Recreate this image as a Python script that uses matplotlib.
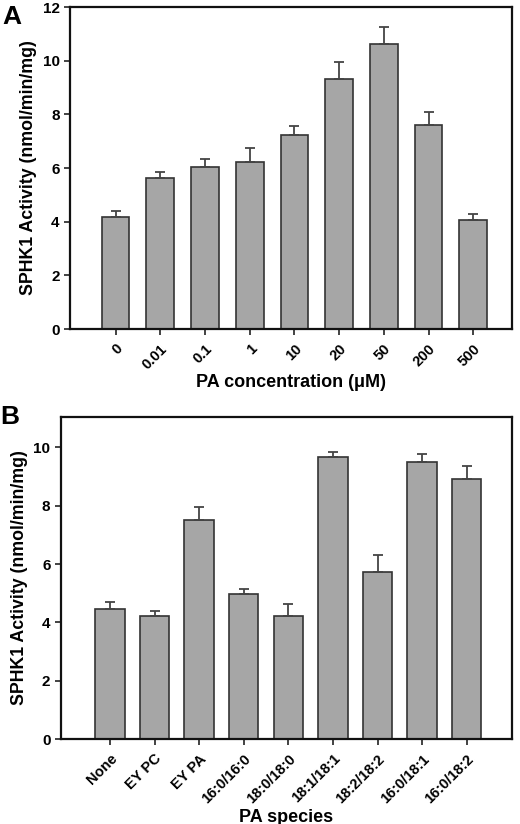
import matplotlib.pyplot as plt

plt.rcParams['font.family'] = ['Liberation Sans', 'DejaVu Sans']
plt.rcParams['font.weight'] = 'bold'

# panel A
conc_labels = ["0", "0.01", "0.1", "1", "10", "20", "50", "200", "500"]
conc_mean = [4.19, 5.62, 6.05, 6.21, 7.24, 9.32, 10.61, 7.60, 4.07]
conc_err = [0.22, 0.22, 0.28, 0.52, 0.33, 0.62, 0.66, 0.49, 0.22]

# panel B
species_labels = ["None", "EY PC", "EY PA", "16:0/16:0", "18:0/18:0",
                  "18:1/18:1", "18:2/18:2", "16:0/18:1", "16:0/18:2"]
species_mean = [4.47, 4.22, 7.50, 4.98, 4.21, 9.68, 5.73, 9.50, 8.90]
species_err = [0.23, 0.17, 0.46, 0.18, 0.42, 0.17, 0.58, 0.26, 0.47]

bar_col = "#a6a6a6"
edge_col = "#333333"

fig = plt.figure(figsize=(5.2, 8.24), dpi=100)
axA = fig.add_axes([0.1346, 0.6007, 0.8504, 0.3908])
axB = fig.add_axes([0.117, 0.103, 0.868, 0.391])


def draw(ax, labels, mean, err, width, xlim, ylim, yticks, xlabel):
    x = list(range(len(labels)))
    ax.bar(x, mean, width=width, color=bar_col, edgecolor=edge_col, linewidth=1.2,
           yerr=[[0] * len(err), err], capsize=3.5,
           error_kw=dict(ecolor="#444444", elinewidth=1.3, capthick=1.3))
    ax.set_xlim(*xlim)
    ax.set_ylim(*ylim)
    ax.set_yticks(yticks)
    ax.set_xticks(x)
    ax.set_xticklabels(labels, rotation=45, ha="right", rotation_mode="anchor",
                       fontsize=10.5, fontweight="bold")
    for t in ax.get_yticklabels():
        t.set_fontsize(11)
        t.set_fontweight("bold")
    ax.tick_params(direction="out", length=4, width=1.2, color="#222222")
    ax.tick_params(axis="x", pad=5)
    for s in ax.spines.values():
        s.set_linewidth(1.6)
        s.set_color("#111111")
    ax.set_xlabel(xlabel, fontsize=13, fontweight="bold", labelpad=2)
    ax.set_ylabel("SPHK1 Activity (nmol/min/mg)", fontsize=12.8, fontweight="bold")


draw(axA, conc_labels, conc_mean, conc_err, 0.62, (-1.02, 8.87), (0, 12),
     range(0, 13, 2), "PA concentration (\u03bcM)")
draw(axB, species_labels, species_mean, species_err, 0.66, (-1.10, 9.02), (0, 11.04),
     range(0, 11, 2), "PA species")

fig.text(0.004, 0.994, "A", fontsize=19, fontweight="bold", va="top", ha="left")
fig.text(0.0, 0.508, "B", fontsize=19, fontweight="bold", va="top", ha="left")

fig.savefig("out.png", dpi=100)
